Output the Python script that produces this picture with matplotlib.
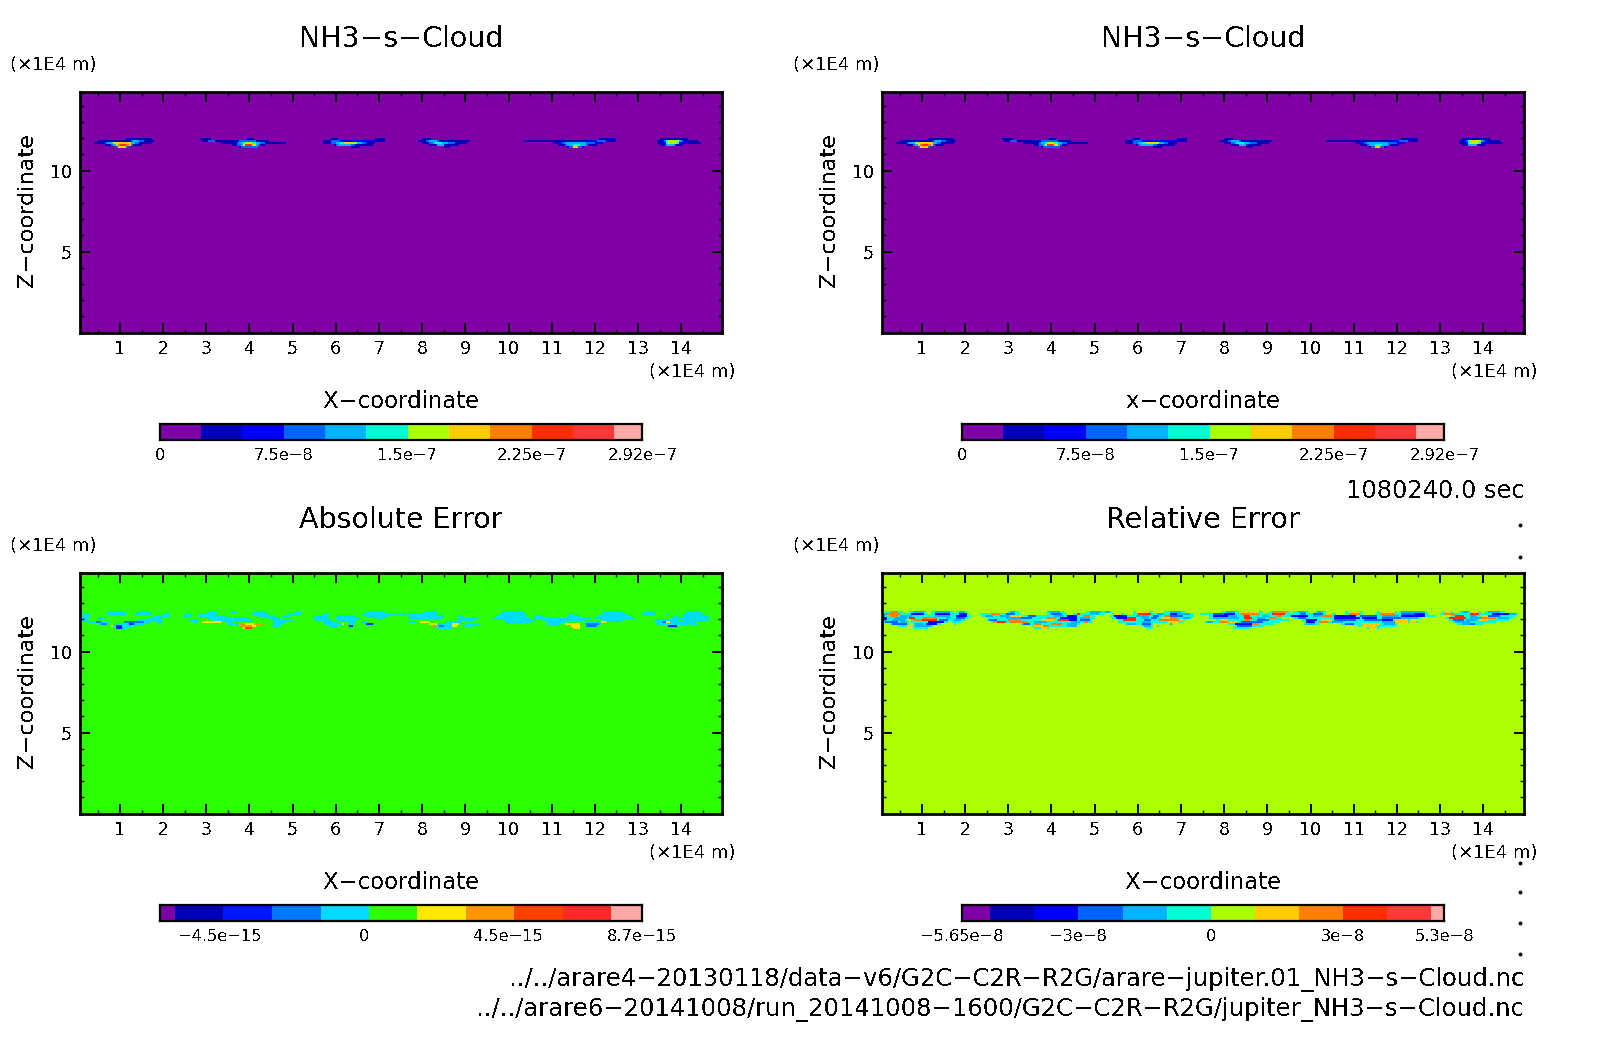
import numpy as np
import matplotlib
matplotlib.use('Agg')
import matplotlib.pyplot as plt
from matplotlib.colors import ListedColormap

plt.rcParams['font.family'] = ['DejaVu Sans']
plt.rcParams['text.antialiased'] = False

# colour levels
cloud_colors = ['#8000A8', '#0000B8', '#0000FF', '#0064FF', '#00B4FF', '#00FFD2',
                '#AAFF00', '#FFCC00', '#FF8000', '#FF2D00', '#FF3838', '#FFA8A8']
abs_colors = ['#8000A8', '#0000B8', '#0018FF', '#0078FF', '#00DCFF', '#2CFF00',
              '#FFE800', '#FF9600', '#FF4000', '#FF2828', '#FFA8A8']

# colour bar level boundaries
cloud_bounds = [0, 2.5e-8, 5e-8, 7.5e-8, 1e-7, 1.25e-7, 1.5e-7, 1.75e-7, 2e-7, 2.25e-7, 2.5e-7, 2.75e-7, 2.92e-7]
abs_bounds = [-6.39e-15, -5.92e-15, -4.41e-15, -2.88e-15, -1.35e-15, 0.17e-15, 1.66e-15,
              3.19e-15, 4.70e-15, 6.21e-15, 7.72e-15, 8.7e-15]
rel_bounds = [-5.65e-8, -5e-8, -4e-8, -3e-8, -2e-8, -1e-8, 0, 1e-8, 2e-8, 3e-8, 4e-8, 5e-8, 5.3e-8]

cloud_ticks = [0, 7.5e-8, 1.5e-7, 2.25e-7, 2.92e-7]
cloud_ticklabels = ['0', '7.5e\u22128', '1.5e\u22127', '2.25e\u22127', '2.92e\u22127']
abs_ticks = [-4.5e-15, 0, 4.5e-15, 8.7e-15]
abs_ticklabels = ['\u22124.5e\u221215', '0', '4.5e\u221215', '8.7e\u221215']
rel_ticks = [-5.65e-8, -3e-8, 0, 3e-8, 5.3e-8]
rel_ticklabels = ['\u22125.65e\u22128', '\u22123e\u22128', '0', '3e\u22128', '5.3e\u22128']

x_ticks = list(range(1, 15))
z_ticks = [5, 10]

# field values: z of row -> runs of (x0, x1, level), later runs paint over
cloud_runs = {
    11.875: [(1.15, 1.76, 1), (2.84, 3.1, 1), (3.95, 4.1, 1), (5.91, 6.06, 1), (6.91, 7.14, 1), (7.98, 8.21, 1),
             (12.09, 12.51, 1), (13.51, 14.13, 1)],
    11.75: [(0.49, 1.82, 1), (1.26, 1.57, 3), (1.3, 1.45, 4),
            (2.88, 4.45, 1), (3.07, 3.22, 3), (3.76, 4.14, 3),
            (5.72, 7.14, 1), (5.91, 6.9, 2), (5.91, 6.1, 3),
            (7.89, 9.1, 1), (8.1, 8.4, 3), (8.17, 8.37, 4),
            (10.36, 12.48, 1), (11.86, 12.36, 2), (12.05, 12.25, 3),
            (13.45, 14.4, 1), (13.55, 14.05, 2), (13.59, 14.05, 3), (13.63, 14.01, 4),
            (13.67, 13.97, 5), (13.68, 13.94, 6), (13.7, 13.82, 7)],
    11.625: [(0.39, 1.76, 1), (0.65, 1.45, 3), (0.69, 1.34, 4), (0.84, 1.26, 6), (0.88, 1.26, 7),
             (3.33, 4.87, 1), (3.72, 4.33, 3), (3.76, 4.26, 4), (3.84, 4.14, 5), (3.91, 4.07, 6),
             (5.68, 6.9, 1), (5.91, 6.68, 3), (5.98, 6.6, 4), (6.1, 6.52, 5), (6.18, 6.48, 6), (6.22, 6.33, 7),
             (8.02, 9.06, 1), (8.17, 8.75, 3), (8.25, 8.6, 4), (8.3, 8.44, 5),
             (11.05, 12.2, 1), (11.13, 12.13, 2), (11.25, 11.98, 3), (11.29, 11.82, 4),
             (13.47, 14.43, 1), (13.59, 14.13, 2), (13.63, 13.97, 3), (13.65, 13.97, 4), (13.67, 13.94, 5), (13.68, 13.9, 6)],
    11.5: [(0.65, 1.49, 1), (0.8, 1.3, 3), (0.84, 1.26, 4), (0.88, 1.26, 6), (0.92, 1.26, 7), (0.95, 1.22, 8), (1.0, 1.15, 9),
           (3.6, 4.37, 1), (3.72, 4.26, 3), (3.8, 4.18, 4), (3.84, 4.14, 5), (3.85, 4.13, 6), (3.88, 4.1, 7), (3.91, 4.07, 9),
           (5.95, 6.83, 1), (6.02, 6.44, 3), (6.06, 6.37, 4),
           (8.17, 8.87, 1), (8.33, 8.48, 4),
           (11.13, 12.05, 1), (11.29, 11.86, 3), (11.33, 11.8, 4), (11.48, 11.67, 5),
           (13.51, 14.05, 1), (13.67, 13.82, 3), (13.67, 13.86, 4)],
    11.375: [(0.88, 1.22, 1), (0.92, 1.19, 3), (0.95, 1.16, 6), (0.97, 1.15, 7),
             (3.76, 4.22, 1), (3.8, 4.18, 3),
             (6.33, 6.56, 1),
             (8.52, 8.64, 1),
             (11.36, 11.75, 1), (11.4, 11.72, 3), (11.5, 11.6, 7)],
}

abs_runs = {
    12.375: [(0.72, 1.15, 4), (1.38, 1.72, 4), (3.03, 3.26, 4), (3.53, 3.68, 4), (4.1, 4.33, 4), (5.06, 5.22, 4), (6.68, 7.14, 4),
             (8.06, 8.33, 4), (9.83, 10.36, 4), (12.21, 12.67, 4), (13.17, 13.4, 4), (14.09, 14.47, 4)],
    12.25: [(0.15, 0.3, 4), (0.72, 1.15, 4), (1.34, 1.76, 4), (2.0, 2.17, 4), (2.49, 2.64, 4), (2.84, 3.26, 4), (4.07, 4.45, 4),
            (4.91, 5.22, 4), (5.68, 5.83, 4), (6.6, 7.41, 4), (7.45, 7.6, 4), (7.64, 8.37, 4), (9.79, 10.4, 4), (11.4, 11.52, 4),
            (12.13, 12.74, 4), (13.09, 13.4, 4), (13.63, 13.71, 4), (14.05, 14.51, 4)],
    12.125: [(0.11, 0.3, 4), (1.8, 2.17, 4), (2.45, 2.64, 4), (2.8, 3.45, 4), (4.22, 4.6, 4), (4.76, 4.95, 4), (5.52, 5.87, 4),
             (6.0, 6.45, 4), (6.68, 7.21, 4), (7.71, 8.48, 4), (8.79, 8.94, 4), (9.71, 10.4, 4), (10.59, 10.82, 4), (11.36, 11.63, 4),
             (12.05, 12.86, 4), (13.78, 13.9, 4), (14.05, 14.63, 4)],
    12.0: [(0.11, 0.23, 4), (0.49, 0.65, 4), (1.65, 1.95, 4), (3.07, 4.0, 4), (4.45, 4.72, 4), (5.49, 5.87, 4), (6.0, 6.56, 4),
           (6.95, 7.1, 4), (7.71, 8.44, 4), (8.87, 9.29, 4), (9.63, 10.52, 4), (10.59, 11.9, 4), (11.98, 12.9, 4),
           (13.74, 14.28, 4), (14.36, 14.67, 4)],
    11.875: [(0.11, 0.26, 4), (1.38, 2.0, 4), (2.61, 2.8, 4), (3.14, 4.03, 4), (4.53, 4.99, 4), (5.56, 5.9, 4), (6.06, 6.52, 4),
             (8.79, 9.21, 4), (9.9, 10.59, 4), (10.82, 11.75, 4), (12.21, 12.67, 4), (13.4, 13.94, 4), (14.05, 14.6, 4)],
    11.75: [(0.26, 0.76, 4), (0.45, 0.57, 3), (1.11, 1.68, 4), (1.11, 1.53, 3), (1.84, 1.95, 4), (2.68, 2.8, 4), (2.91, 3.34, 6),
            (3.45, 3.6, 4), (4.53, 4.84, 4), (5.68, 6.06, 4), (6.29, 6.45, 4), (6.6, 6.75, 4),
            (7.71, 7.87, 4), (7.94, 8.14, 6), (8.56, 8.9, 4), (9.94, 10.52, 4), (10.9, 11.29, 4), (11.75, 12.13, 4),
            (12.17, 12.25, 6), (13.4, 14.36, 4), (13.55, 13.7, 3), (13.63, 13.74, 6)],
    11.625: [(0.49, 0.69, 4), (0.57, 0.72, 3), (0.92, 1.53, 4), (1.22, 1.34, 3), (1.22, 1.3, 2), (1.88, 1.95, 4), (3.49, 3.76, 4),
             (3.76, 3.91, 7), (3.91, 4.1, 6), (4.1, 4.3, 7), (4.53, 4.76, 4), (5.75, 6.14, 4), (6.14, 6.22, 6), (6.29, 6.45, 4),
             (6.68, 6.9, 4), (6.71, 6.87, 2),
             (8.29, 8.9, 4), (8.17, 8.37, 6), (8.68, 8.83, 6), (9.02, 9.33, 4), (10.9, 11.21, 4), (11.29, 11.63, 6),
             (11.82, 12.13, 4), (11.82, 12.09, 3), (13.44, 14.13, 4), (14.2, 14.4, 4)],
    11.5: [(0.84, 1.3, 4), (0.8, 0.84, 6), (0.92, 1.07, 2), (3.8, 4.07, 7), (4.07, 4.14, 6), (4.53, 4.68, 4), (5.87, 6.06, 4),
           (6.29, 6.41, 2),
           (8.33, 8.79, 4), (8.25, 8.37, 7), (8.41, 8.52, 3), (8.68, 8.79, 6), (9.02, 9.14, 4), (11.44, 11.65, 6),
           (11.79, 12.05, 4), (11.82, 12.05, 3), (13.7, 13.9, 2)],
    11.375: [(0.88, 1.15, 4), (0.92, 1.07, 2), (3.87, 4.07, 6), (3.91, 4.03, 8), (8.33, 8.71, 4), (11.48, 11.65, 6)],
}

# teal envelope of the relative error band, painted first
rel_base = {
    12.375: [(0.15, 0.55), (0.7, 1.1), (1.2, 1.75), (1.8, 2.05), (3.0, 3.25), (3.9, 4.3), (4.8, 5.4), (5.9, 6.35), (6.6, 7.1),
             (7.95, 8.3), (8.3, 8.9), (9.05, 9.55), (9.6, 9.95), (10.1, 10.35), (10.8, 11.2), (11.55, 12.0), (12.05, 12.7),
             (13.05, 13.3), (13.45, 13.95), (14.05, 14.5)],
    12.25: [(0.0, 1.15), (1.2, 2.1), (2.35, 3.3), (3.9, 4.35), (4.5, 5.25), (5.4, 5.7), (5.9, 7.3), (7.45, 10.6), (10.8, 11.25),
            (11.5, 12.75), (13.0, 14.8)],
    12.125: [(0.0, 2.15), (2.4, 5.0), (5.35, 7.3), (7.65, 12.9), (13.25, 14.75)],
    12.0: [(0.0, 2.1), (2.5, 5.0), (5.4, 7.25), (7.65, 9.35), (9.6, 12.55), (13.15, 14.7)],
    11.875: [(0.0, 0.65), (0.75, 2.0), (2.5, 4.95), (5.55, 7.1), (7.8, 9.5), (9.8, 12.3), (13.2, 14.6)],
    11.75: [(0.1, 0.7), (0.75, 1.6), (1.7, 1.9), (2.6, 4.95), (5.55, 6.7), (6.75, 7.05), (7.55, 9.3), (9.85, 12.5), (13.3, 14.3)],
    11.625: [(0.25, 0.7), (0.8, 1.45), (3.3, 4.65), (5.7, 6.35), (8.1, 9.15), (9.85, 10.2), (10.7, 12.0), (13.4, 14.0)],
    11.5: [(0.45, 1.25), (3.55, 4.6), (6.1, 6.5), (8.25, 8.9), (11.1, 12.0)],
    11.375: [(0.8, 1.15), (3.6, 3.95), (6.2, 6.35), (8.2, 8.6), (11.3, 11.6)],
}

rel_runs = {
    12.375: [(0.24, 0.47, 8), (0.78, 1.05, 4), (1.28, 1.66, 4), (1.86, 2.01, 4), (3.05, 3.16, 4), (3.97, 4.2, 4), (4.89, 5.16, 4),
             (5.27, 5.35, 4), (5.97, 6.27, 7),
             (6.73, 7.0, 4), (8.04, 8.23, 4), (8.35, 8.8, 7), (9.11, 9.46, 8), (9.69, 9.88, 4), (10.15, 10.3, 4), (10.88, 11.15, 7),
             (11.61, 11.96, 7), (12.11, 12.65, 4), (13.11, 13.26, 7), (13.49, 13.64, 4), (13.72, 13.91, 7), (14.1, 14.4, 4)],
    12.25: [(0.09, 0.2, 4), (0.2, 0.51, 8), (0.74, 1.05, 2), (1.28, 1.66, 2), (1.86, 2.05, 2), (2.39, 2.55, 5), (2.62, 2.78, 8),
            (2.93, 3.16, 3), (4.0, 4.24, 3), (4.58, 4.66, 9), (4.89, 5.12, 4), (5.47, 5.62, 7), (6.0, 6.31, 9), (6.46, 6.58, 4),
            (6.73, 6.92, 2), (6.92, 7.19, 4), (7.5, 7.69, 5), (7.77, 8.23, 3), (8.0, 8.23, 2), (8.38, 8.8, 8), (8.92, 9.0, 5),
            (9.11, 9.42, 9), (9.73, 9.92, 3), (10.07, 10.3, 3), (10.34, 10.5, 7), (10.88, 11.15, 8), (11.61, 11.96, 8),
            (12.11, 12.57, 3), (12.38, 12.65, 2), (13.11, 13.34, 8), (13.72, 13.91, 9), (14.2, 14.6, 2), (14.6, 14.75, 4)],
    12.125: [(0.01, 0.17, 3), (0.24, 0.47, 8), (0.51, 0.82, 4), (0.9, 1.13, 5), (1.28, 1.66, 4), (1.82, 2.05, 2), (2.43, 2.66, 4),
             (2.82, 3.05, 4), (3.05, 3.35, 7), (3.43, 3.66, 3), (4.05, 4.28, 4), (4.35, 4.58, 2), (4.74, 4.89, 8), (5.43, 5.73, 2),
             (5.97, 6.27, 4), (6.35, 6.5, 3), (6.58, 6.73, 8),
             (6.73, 7.04, 3), (7.04, 7.19, 5), (7.73, 8.08, 2), (8.08, 8.31, 4), (8.46, 8.62, 9), (8.92, 9.04, 4), (9.19, 9.34, 8),
             (9.57, 9.96, 2), (10.04, 10.27, 4), (10.27, 10.5, 8), (10.53, 11.03, 2), (11.15, 11.57, 3), (11.65, 12.03, 4),
             (12.11, 12.65, 2), (12.65, 12.84, 5), (13.34, 13.57, 9), (13.68, 13.87, 4), (13.95, 14.1, 7), (14.1, 14.4, 3)],
    12.0: [(0.01, 0.2, 2), (0.36, 0.67, 4), (0.7, 0.86, 9), (1.01, 1.36, 8), (1.55, 1.66, 4), (1.82, 2.01, 3), (2.59, 2.82, 5),
           (2.97, 3.28, 4), (3.32, 3.55, 3), (3.89, 4.12, 8), (4.2, 4.58, 2), (4.66, 4.89, 4), (5.5, 5.73, 2), (5.73, 5.97, 9),
           (6.12, 6.27, 4), (6.31, 6.46, 3), (6.54, 6.73, 7),
           (6.73, 6.92, 8), (7.04, 7.19, 4), (7.73, 8.35, 4), (8.46, 8.65, 9), (8.73, 8.96, 4), (9.04, 9.19, 8), (9.69, 9.92, 3),
           (10.04, 10.42, 5), (10.57, 11.15, 2), (11.18, 11.57, 2), (11.65, 12.11, 3), (12.11, 12.49, 4), (13.22, 13.6, 9),
           (13.68, 13.95, 4), (13.95, 14.3, 8), (14.35, 14.6, 4)],
    11.875: [(0.05, 0.17, 4), (0.28, 0.59, 4), (0.82, 1.01, 8), (1.01, 1.36, 9), (1.4, 1.59, 3), (1.74, 1.89, 4), (2.55, 2.74, 3),
             (3.01, 3.32, 8), (3.35, 3.55, 5), (3.74, 4.05, 7), (4.16, 4.39, 9), (4.39, 4.58, 2), (4.66, 4.89, 3), (5.66, 5.97, 9),
             (6.16, 6.31, 3), (6.5, 6.73, 8),
             (6.73, 6.96, 8), (6.96, 7.04, 7), (7.88, 8.08, 7), (8.46, 8.62, 8), (8.73, 9.04, 3), (9.27, 9.42, 5), (9.88, 10.15, 2),
             (10.23, 10.5, 7), (10.57, 11.03, 3), (11.26, 11.65, 3), (11.65, 11.88, 2), (11.96, 12.26, 7), (13.3, 13.53, 3),
             (13.6, 13.87, 4), (13.91, 14.1, 7), (14.1, 14.5, 5)],
    11.75: [(0.13, 0.47, 3), (0.51, 0.63, 4), (0.82, 1.13, 5), (1.16, 1.51, 2), (1.74, 1.86, 5), (2.66, 2.74, 8), (2.74, 2.97, 9),
            (3.05, 3.43, 8), (3.62, 3.89, 4), (4.05, 4.35, 5), (4.43, 4.66, 4), (4.74, 4.85, 8), (5.58, 5.89, 5), (6.12, 6.31, 4),
            (6.43, 6.66, 5),
            (6.73, 6.96, 7), (7.61, 7.77, 4), (7.88, 8.08, 8), (8.08, 8.31, 7), (8.38, 8.88, 3), (8.88, 9.23, 5), (9.92, 10.11, 2),
            (10.19, 10.38, 8), (10.5, 10.76, 4), (11.65, 11.96, 4), (11.96, 12.26, 7), (12.3, 12.45, 7), (13.34, 13.68, 4),
            (13.68, 13.87, 5)],
    11.625: [(0.28, 0.63, 3), (0.86, 1.05, 4), (1.09, 1.36, 2), (1.74, 1.82, 5), (3.35, 3.51, 3), (3.58, 3.74, 8), (4.0, 4.24, 8),
             (4.35, 4.58, 4), (5.73, 5.97, 4), (6.12, 6.31, 3),
             (6.73, 6.81, 4), (8.23, 8.65, 2), (8.65, 8.8, 8), (8.88, 9.11, 5), (9.92, 10.11, 4), (10.8, 10.99, 3), (11.18, 11.61, 7),
             (11.72, 11.96, 4), (13.49, 13.68, 4), (13.68, 13.8, 3)],
    11.5: [(0.51, 0.67, 5), (0.63, 0.78, 7), (0.86, 1.2, 4), (3.58, 3.81, 7), (3.81, 3.97, 8), (4.35, 4.58, 4), (6.16, 6.31, 4),
           (6.35, 6.46, 7),
           (8.3, 8.65, 3), (8.69, 8.88, 5), (11.18, 11.57, 7), (11.8, 11.96, 5)],
    11.375: [(0.82, 1.13, 5), (3.62, 3.89, 5), (3.74, 3.89, 7), (6.2, 6.35, 5), (8.23, 8.58, 5), (11.34, 11.57, 7)],
}

# small stray dots at the right edge of the page, as y of page
stray_dot_y = [513, 544, 843, 872, 902, 932]

W, H = 1568.0, 1030.0   # page units used for the layout below

rel_layers = {z: [(x0, x1, 5) for x0, x1 in rel_base[z]] + rel_runs[z] for z in rel_runs}


def rect(left, top, right, bottom):
    return [left / W, 1 - bottom / H, (right - left) / W, (bottom - top) / H]


def make_field(runs, background):
    x_edges = np.arange(0, 15.001, 0.05)
    z_edges = np.arange(0, 15.001, 0.125)
    field = np.full((len(z_edges) - 1, len(x_edges) - 1), background, dtype=float)
    for z, row in runs.items():
        j = int(round(z / 0.125))
        for x0, x1, level in row:
            field[j, int(round(x0 / 0.05)):int(round(x1 / 0.05))] = level
    return x_edges, z_edges, field


def draw_panel(left, top, runs, colors, background):
    ax = fig.add_axes(rect(left, top, left + 628, top + 235))
    x_edges, z_edges, field = make_field(runs, background)
    ax.pcolormesh(x_edges, z_edges, field, cmap=ListedColormap(colors), vmin=-0.5, vmax=len(colors) - 0.5,
                  antialiased=False, linewidth=0)
    ax.set_xlim(0.07, 14.95)
    ax.set_ylim(0.0, 14.85)
    ax.set_xticks(x_ticks)
    ax.set_xticks(np.arange(0.5, 15, 1), minor=True)
    ax.set_yticks(z_ticks)
    ax.set_yticks(range(1, 15), minor=True)
    ax.tick_params(which='major', direction='in', length=7, width=1.4, top=True, right=True, labelsize=12.5, pad=5.5)
    ax.tick_params(which='minor', direction='in', length=3, width=1, top=True, right=True)
    for s in ax.spines.values():
        s.set_linewidth(2)
    return ax


def draw_bar(left, top, bounds, colors, ticks, ticklabels):
    ax = fig.add_axes(rect(left, top, left + 472, top + 16))
    ax.pcolormesh(bounds, [0, 1], [np.arange(len(colors))], cmap=ListedColormap(colors), vmin=-0.5, vmax=len(colors) - 0.5,
                  antialiased=False, linewidth=0)
    ax.set_xlim(bounds[0], bounds[-1])
    ax.set_ylim(0, 1)
    ax.set_yticks([])
    ax.set_xticks(ticks)
    ax.set_xticklabels(ticklabels)
    ax.tick_params(axis='x', length=0, labelsize=11.7, pad=5.5)
    for s in ax.spines.values():
        s.set_linewidth(1.6)


fig = plt.figure(figsize=(16.04, 10.54), dpi=100)

panels = [
    (78, 90, cloud_runs, cloud_colors, 0),
    (862, 90, cloud_runs, cloud_colors, 0),
    (78, 560, abs_runs, abs_colors, 5),
    (862, 560, rel_layers, cloud_colors, 6),
]
for left, top, runs, colors, background in panels:
    draw_panel(left, top, runs, colors, background)

draw_bar(156, 414, cloud_bounds, cloud_colors, cloud_ticks, cloud_ticklabels)
draw_bar(940, 414, cloud_bounds, cloud_colors, cloud_ticks, cloud_ticklabels)
draw_bar(156, 884, abs_bounds, abs_colors, abs_ticks, abs_ticklabels)
draw_bar(940, 884, rel_bounds, cloud_colors, rel_ticks, rel_ticklabels)

# page overlay for titles, units and captions
page = fig.add_axes([0, 0, 1, 1])
page.set_xlim(0, W)
page.set_ylim(H, 0)
page.axis('off')
page.patch.set_alpha(0)

titles = ['NH3\u2212s\u2212Cloud', 'NH3\u2212s\u2212Cloud', 'Absolute Error', 'Relative Error']
x_labels = ['X\u2212coordinate', 'x\u2212coordinate', 'X\u2212coordinate', 'X\u2212coordinate']
unit_left = [10, 775, 10, 775]
for i, (left, top, *_) in enumerate(panels):
    mid = left + 314
    page.text(mid, top - 52, titles[i], ha='center', va='center', fontsize=20.5)
    page.text(unit_left[i], top - 26, '(\u00d71E4 m)', ha='left', va='center', fontsize=13)
    page.text(left + 641, top + 274, '(\u00d71E4 m)', ha='right', va='center', fontsize=13)
    page.text(mid, top + 302, x_labels[i], ha='center', va='center', fontsize=16.4)
    page.text(left - 52, top + 115, 'Z\u2212coordinate', ha='center', va='center', rotation=90, fontsize=16.2)

page.text(1490, 480, '1080240.0 sec', ha='right', va='center', fontsize=17.3)
page.text(1490, 957, '../../arare4\u221220130118/data\u2212v6/G2C\u2212C2R\u2212R2G/arare\u2212jupiter.01_NH3\u2212s\u2212Cloud.nc',
          ha='right', va='center', fontsize=17.5)
page.text(1490, 987, '../../arare6\u221220141008/run_20141008\u22121600/G2C\u2212C2R\u2212R2G/jupiter_NH3\u2212s\u2212Cloud.nc',
          ha='right', va='center', fontsize=17.5)
page.plot([1486] * len(stray_dot_y), stray_dot_y, ls='none', marker='o', ms=1.8, color='k')

fig.savefig('out.png', dpi=100)
